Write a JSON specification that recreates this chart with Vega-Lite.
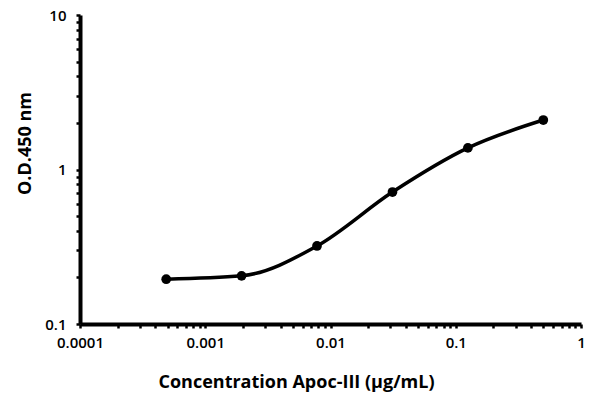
{
  "$schema": "https://vega.github.io/schema/vega-lite/v6.json",
  "width": 501,
  "height": 309,
  "autosize": "none",
  "padding": {"left": 80, "top": 15, "right": 19, "bottom": 72},
  "background": "white",
  "config": {"view": {"stroke": null}, "font": "Open Sans"},
  "data": {"values": [
    {"conc": 0.000488, "od": 0.195},
    {"conc": 0.00195, "od": 0.205},
    {"conc": 0.0078, "od": 0.32},
    {"conc": 0.03125, "od": 0.715},
    {"conc": 0.125, "od": 1.38},
    {"conc": 0.5, "od": 2.09}
  ]},
  "encoding": {
    "x": {"field": "conc", "type": "quantitative",
      "scale": {"type": "log", "domain": [0.0001, 1], "nice": false},
      "axis": {"title": "Concentration Apoc-III (µg/mL)",
        "values": [0.0001,0.0002,0.0003,0.0004,0.0005,0.0006,0.0007,0.0008,0.0009,0.001,0.002,0.003,0.004,0.005,0.006,0.007,0.008,0.009,0.01,0.02,0.03,0.04,0.05,0.06,0.07,0.08,0.09,0.1,0.2,0.3,0.4,0.5,0.6,0.7,0.8,0.9,1],
        "labelExpr": "indexof(['0.0001','0.001','0.01','0.1','1'], format(datum.value, '~g')) >= 0 ? format(datum.value, '~g') : ''",
        "labelFontSize": 15, "labelFontWeight": 600, "labelColor": "black", "labelPadding": 7, "labelFlush": false, "labelOverlap": false,
        "tickSize": 4, "tickWidth": 2.5, "tickColor": "black", "domainWidth": 4, "domainColor": "black", "grid": false,
        "titleFontSize": 18, "titleFontWeight": "bold", "titleColor": "black", "titleX": 216, "titleY": 58, "titleBaseline": "middle", "titleAnchor": "middle"}},
    "y": {"field": "od", "type": "quantitative",
      "scale": {"type": "log", "domain": [0.1, 10], "nice": false},
      "axis": {"title": "O.D.450 nm",
        "values": [0.1,0.2,0.3,0.4,0.5,0.6,0.7,0.8,0.9,1,2,3,4,5,6,7,8,9,10],
        "labelExpr": "indexof(['0.1','1','10'], format(datum.value, '~g')) >= 0 ? format(datum.value, '~g') : ''",
        "labelFontSize": 15, "labelFontWeight": 600, "labelColor": "black", "labelPadding": 10, "labelFlush": false, "labelOverlap": false,
        "tickSize": 4, "tickWidth": 2.5, "tickColor": "black", "domainWidth": 4, "domainColor": "black", "grid": false,
        "titleFontSize": 18, "titleFontWeight": "bold", "titleColor": "black", "titleX": -55, "titleY": 128, "titleBaseline": "middle", "titleAnchor": "middle"}}
  },
  "layer": [
    {"mark": {"type": "line", "color": "black", "strokeWidth": 3.5, "interpolate": "monotone"}},
    {"mark": {"type": "point", "filled": true, "color": "black", "opacity": 1, "size": 95}}
  ]
}
